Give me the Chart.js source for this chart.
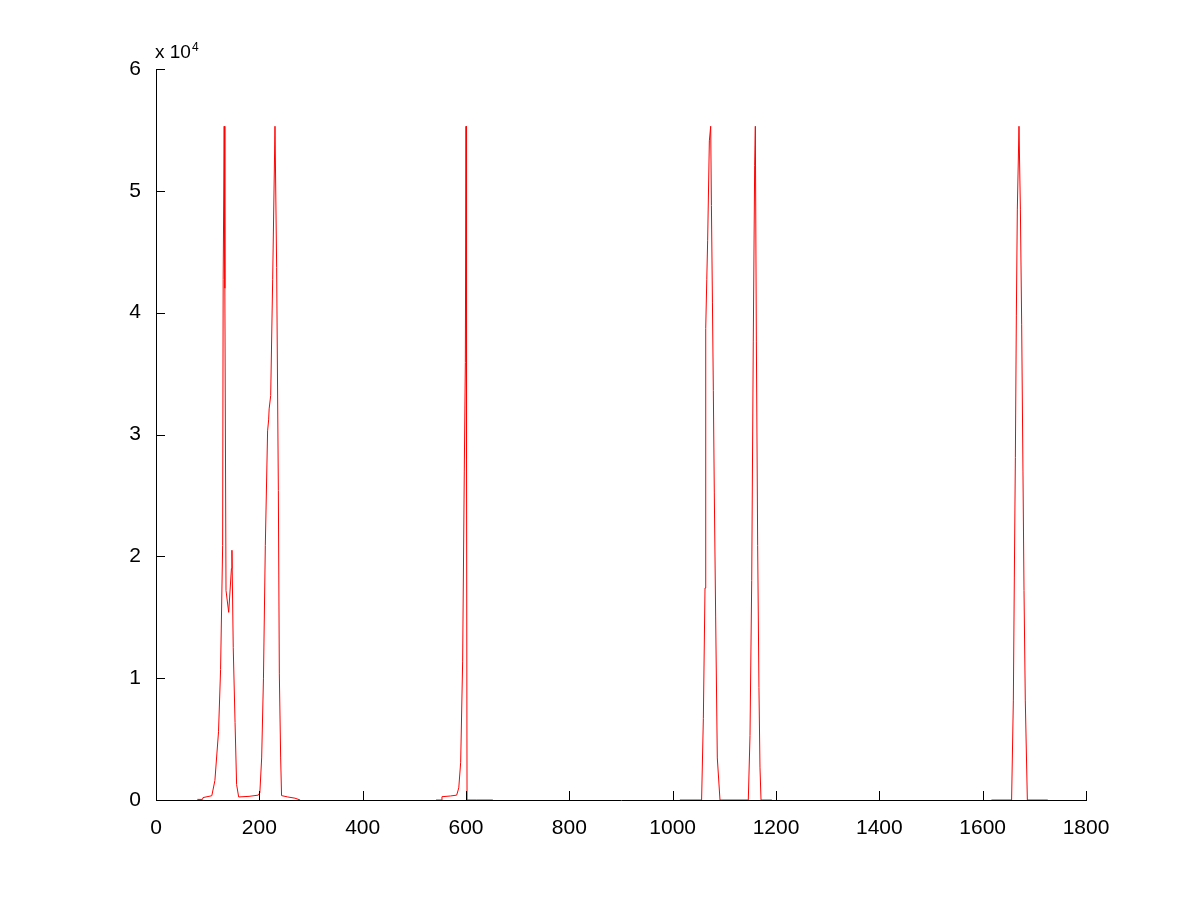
<!DOCTYPE html>
<html>
<head>
<meta charset="utf-8">
<script src="https://cdn.jsdelivr.net/npm/chart.js@4/dist/chart.umd.min.js"></script>
<style>
html,body{margin:0;padding:0;background:#fff}
#wrap{width:1200px;height:900px}
</style>
</head>
<body>
<div id="wrap"><canvas id="c" width="1200" height="900"></canvas></div>
<script>
// spectrum samples, null marks a gap between measured windows
const xs = [
80, 90, 91, 108, 114, 121, 125, 129, 130, 132, 133, 133.5, 135.5, 140.7, 146, 147, 149.5, 153, 156, 160, 180, 198, 201, 204.5, 208, 211.6, 216, 218, 219, 222, 225.8, 230.3, 233.5, 236.8, 238.7, 241.3, 243, 255, 269, 279,
null,
542, 553, 553.5, 570, 582, 586, 589.7, 593.5, 596.7, 598.7, 600, 601, 602, 620, 652,
null,
1014, 1056, 1059.4, 1062.6, 1064, 1066, 1067.7, 1071, 1073.6, 1075, 1077, 1078.7, 1080.6, 1083.2, 1086.4, 1091.6, 1146.4, 1149.7, 1153, 1156, 1158.7, 1160, 1162, 1164.5, 1167, 1169, 1171, 1192,
null,
1617, 1656, 1659.4, 1661.3, 1663.3, 1665.2, 1667.1, 1670.3, 1673, 1675.5, 1678, 1680, 1682.5, 1686.5, 1726
]
const ys = [
50, 50, 200, 350, 1600, 5600, 10700, 20900, 42700, 55300, 51000, 42000, 17200, 15400, 19000, 20500, 12500, 6350, 1270, 250, 300, 400, 600, 3450, 10000, 20900, 30300, 31200, 32100, 33200, 42700, 55300, 43700, 25400, 10350, 3450, 360, 250, 150, 0,
null,
0, 0, 270, 330, 400, 1000, 3100, 11400, 27000, 35900, 55300, 28000, 0, 0, 0,
null,
0, 0, 6700, 17400, 38700, 42700, 45900, 54100, 55300, 48800, 40800, 33600, 25200, 15100, 3450, 0, 0, 5300, 18000, 37600, 52100, 55300, 37600, 20900, 9250, 2700, 0, 0,
null,
0, 0, 8200, 18300, 28100, 39800, 48500, 55300, 48500, 39000, 27000, 17200, 8200, 0, 0
]
const xTicks = [0, 200, 400, 600, 800, 1000, 1200, 1400, 1600, 1800]
const yTicks = [0, 10000, 20000, 30000, 40000, 50000, 60000]
const yExponent = 4

const points = xs.map((x, i) => ({ x: x === null ? NaN : x, y: ys[i] }))

const FONT = "'Liberation Sans', Arial, Helvetica, sans-serif"

// matlab style: ticks point into the axes, exponent note above y axis
const inwardTicks = {
  id: "inwardTicks",
  afterDraw(chart){
    const ctx = chart.ctx
    const a = chart.chartArea
    const xs_ = chart.scales.x, ys_ = chart.scales.y
    const len = 9
    ctx.save()
    ctx.strokeStyle = "#000"
    ctx.lineWidth = 1
    ctx.beginPath()
    xTicks.forEach(v => {
      const p = Math.round(xs_.getPixelForValue(v)) + 0.5
      ctx.moveTo(p, a.bottom)
      ctx.lineTo(p, a.bottom - len)
    })
    yTicks.forEach(v => {
      const p = Math.round(ys_.getPixelForValue(v)) + 0.5
      ctx.moveTo(a.left, p)
      ctx.lineTo(a.left + len, p)
    })
    ctx.stroke()
    ctx.fillStyle = "#000"
    ctx.textBaseline = "alphabetic"
    ctx.textAlign = "left"
    ctx.font = "19px " + FONT
    ctx.fillText("x 10", a.left - 1, 58)
    const w = ctx.measureText("x 10").width
    ctx.font = "12px " + FONT
    ctx.fillText(String(yExponent), a.left - 1 + w + 1, 51)
    ctx.restore()
  }
}

new Chart(document.getElementById("c"), {
  type: "line",
  data: {
    datasets: [{
      data: points,
      borderColor: "rgb(255,0,0)",
      borderWidth: 1,
      pointRadius: 0,
      tension: 0,
      spanGaps: false,
      fill: false
    }]
  },
  options: {
    responsive: false,
    animation: false,
    layout: { padding: { left: 0, right: 114, top: 69, bottom: 0 } },
    plugins: { legend: { display: false }, tooltip: { enabled: false } },
    scales: {
      x: {
        type: "linear",
        min: 0, max: 1800,
        afterBuildTicks: s => { s.ticks = xTicks.map(v => ({ value: v })) },
        afterFit: s => { s.height = 100 },
        grid: { display: false },
        border: { display: true, color: "#000", width: 1 },
        ticks: {
          color: "#000", font: { family: FONT, size: 21 }, padding: 8, maxRotation: 0,
          callback: v => String(v)
        }
      },
      y: {
        type: "linear",
        min: 0, max: 60000,
        afterBuildTicks: s => { s.ticks = yTicks.map(v => ({ value: v })) },
        afterFit: s => { s.width = 156 },
        grid: { display: false },
        border: { display: true, color: "#000", width: 1 },
        ticks: {
          color: "#000", font: { family: FONT, size: 21 }, padding: 7,
          callback: v => String(v / Math.pow(10, yExponent))
        }
      }
    }
  },
  plugins: [inwardTicks]
})
</script>
</body>
</html>
